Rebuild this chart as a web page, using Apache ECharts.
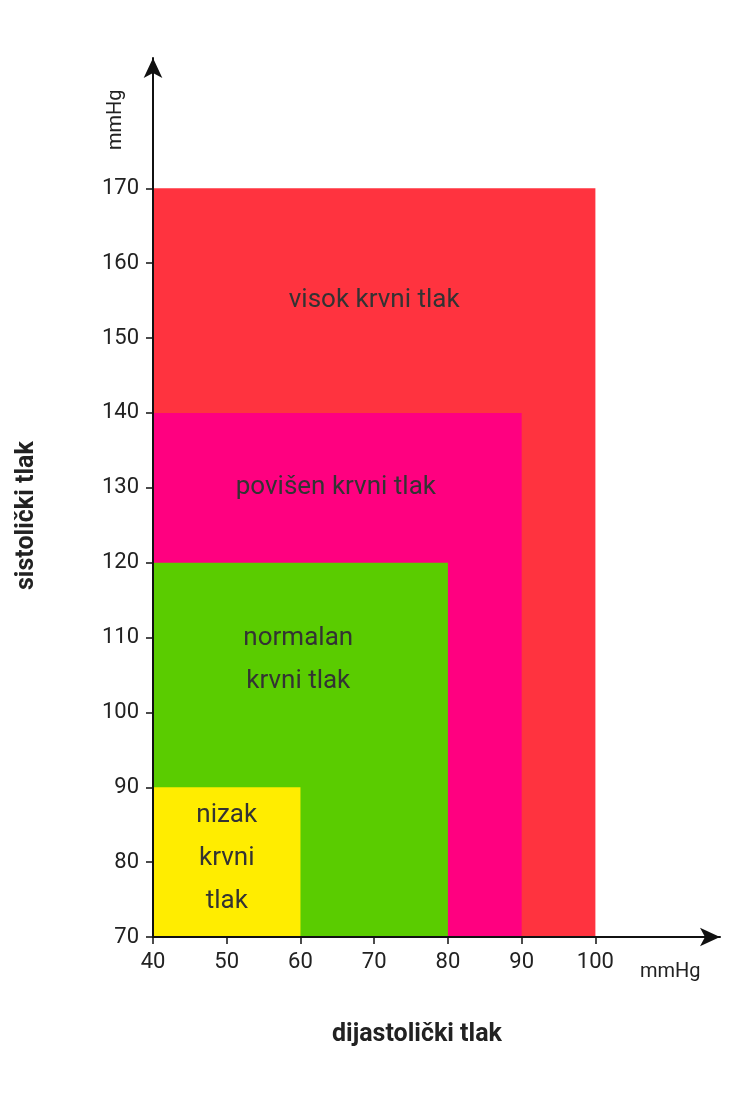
<!DOCTYPE html>
<html><head><meta charset="utf-8">
<script src="https://cdn.jsdelivr.net/npm/echarts@6/dist/echarts.min.js"></script>
<style>html,body{margin:0;padding:0;background:#fff}#c{width:734px;height:1100px}</style>
</head><body><div id="c"></div>
<script>
// zones: upper diastolic / systolic limits, starting from 40 / 70
var zoneNames = ['visok krvni tlak', 'povišen krvni tlak', 'normalan\nkrvni tlak', 'nizak\nkrvni\ntlak'];
var zoneDia = [100, 90, 80, 60];
var zoneSys = [170, 140, 120, 90];
var zoneColors = ['#FF333F', '#FF0080', '#5ACC00', '#FFED00'];
var labelX = [70, 64.8, 59.7, 50];
var labelY = [155, 130, 107, 80.5];
var xTicks = [40, 50, 60, 70, 80, 90, 100];
var yTicks = [70, 80, 90, 100, 110, 120, 130, 140, 150, 160, 170];

var myChart = echarts.init(document.getElementById('c'));
var data = zoneNames.map(function (n, i) { return [zoneDia[i], zoneSys[i], labelX[i], labelY[i], i]; });

var option = {
    animation: false,
    grid: { left: 153, right: 14, top: 58, bottom: 163 },
    xAxis: {
        type: 'value', min: 40, max: 116.9, splitLine: { show: false },
        axisLine: { lineStyle: { color: '#111', width: 2 }, symbol: ['none', 'arrow'], symbolSize: [14, 20] },
        axisTick: { customValues: xTicks, length: 7, lineStyle: { color: '#111', width: 1.5 } },
        axisLabel: { customValues: xTicks, fontFamily: 'Roboto', fontSize: 22, color: '#222', margin: 14 }
    },
    yAxis: {
        type: 'value', min: 70, max: 187.4, splitLine: { show: false },
        axisLine: { lineStyle: { color: '#111', width: 2 }, symbol: ['none', 'arrow'], symbolSize: [14, 20] },
        axisTick: { customValues: yTicks, length: 7, lineStyle: { color: '#111', width: 1.5 } },
        axisLabel: { customValues: yTicks, fontFamily: 'Roboto', fontSize: 22, color: '#222', margin: 14 }
    },
    series: [{
        type: 'custom',
        data: data,
        renderItem: function (params, api) {
            var i = api.value(4);
            var p0 = api.coord([40, 70]);
            var p1 = api.coord([api.value(0), api.value(1)]);
            var pl = api.coord([api.value(2), api.value(3)]);
            return {
                type: 'group',
                children: [{
                    type: 'rect',
                    shape: { x: p0[0] + 1, y: p1[1], width: p1[0] - p0[0] - 1, height: p0[1] - p1[1] - 1 },
                    style: { fill: zoneColors[i] }
                }, {
                    type: 'text', z2: 10,
                    style: {
                        x: pl[0], y: pl[1], text: zoneNames[i], align: 'center', verticalAlign: 'middle',
                        fontFamily: 'Roboto', fontSize: 26, lineHeight: 43, fill: '#333'
                    }
                }]
            };
        }
    }],
    graphic: [
        { type: 'text', left: 640, top: 962, style: { text: 'mmHg', fontFamily: 'Roboto', fontSize: 20, fill: '#222' } },
        { type: 'text', x: 106, y: 150, rotation: Math.PI / 2, style: { text: 'mmHg', fontFamily: 'Roboto', fontSize: 20, fill: '#222' } },
        { type: 'text', x: 14, y: 590, rotation: Math.PI / 2, style: { text: 'sistolički tlak', fontFamily: 'Roboto', fontSize: 25, fontWeight: 'bold', fill: '#222' } },
        { type: 'text', left: 332, top: 1022, style: { text: 'dijastolički tlak', fontFamily: 'Roboto', fontSize: 25, fontWeight: 'bold', fill: '#222' } }
    ]
};
myChart.setOption(option);
</script></body></html>
